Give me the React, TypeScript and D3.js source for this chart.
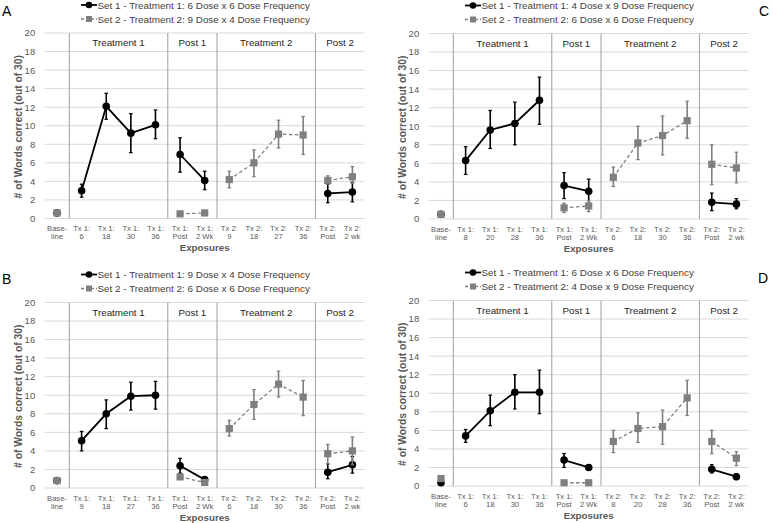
import React from "react";
import * as d3 from "d3";

// ---------- data ----------
const tickTop = ["Base-", "Tx 1:", "Tx 1:", "Tx 1:", "Tx 1:", "Tx 1:", "Tx 1:", "Tx 2:", "Tx 2:", "Tx 2:", "Tx 2:", "Tx 2:", "Tx 2:"];
const tickBottomA = ["line", "6", "18", "30", "36", "Post", "2 Wk", "9", "18", "27", "36", "Post", "2 wk"];
const tickBottomB = ["line", "9", "18", "27", "36", "Post", "2 Wk", "6", "18", "30", "36", "Post", "2 wk"];
const tickBottomC = ["line", "8", "20", "28", "36", "Post", "2 Wk", "6", "18", "30", "36", "Post", "2 wk"];
const tickBottomD = ["line", "6", "18", "30", "36", "Post", "2 Wk", "8", "20", "28", "36", "Post", "2 wk"];

const phaseNames = ["Treatment 1", "Post 1", "Treatment 2", "Post 2"];
const phaseStart = [1, 5, 7, 11];
const phaseEnd = [4, 6, 10, 12];
const groupOf = [0, 1, 1, 1, 1, 2, 2, 3, 3, 3, 3, 4, 4];

const yTicks = [0, 2, 4, 6, 8, 10, 12, 14, 16, 18, 20];

const legendA = ["Set 1 - Treatment 1: 6 Dose x 6 Dose Frequency", "Set 2 - Treatment 2: 9 Dose x 4 Dose Frequency"];
const legendB = ["Set 1 - Treatment 1: 9 Dose x 4 Dose Frequency", "Set 2 - Treatment 2: 6 Dose x 6 Dose Frequency"];
const legendC = ["Set 1 - Treatment 1: 4 Dose x 9 Dose Frequency", "Set 2 - Treatment 2: 6 Dose x 6 Dose Frequency"];
const legendD = ["Set 1 - Treatment 1: 6 Dose x 6 Dose Frequency", "Set 2 - Treatment 2: 4 Dose x 9 Dose Frequency"];

const N = null;
// Panel A
const a1 = [0.6, 3.0, 12.1, 9.2, 10.1, 6.9, 4.1, N, N, N, N, 2.7, 2.85];
const a1Hi = [0.9, 3.7, 13.5, 11.3, 11.7, 8.7, 5.1, N, N, N, N, 3.7, 3.9];
const a1Lo = [0.4, 2.3, 10.7, 7.1, 8.6, 5.0, 3.1, N, N, N, N, 1.7, 1.8];
const a2 = [0.6, N, N, N, N, 0.5, 0.6, 4.2, 6.0, 9.1, 9.0, 4.1, 4.5];
const a2Hi = [0.9, N, N, N, N, 0.6, 0.7, 5.1, 7.4, 10.6, 11.0, 4.6, 5.6];
const a2Lo = [0.4, N, N, N, N, 0.4, 0.5, 3.3, 4.5, 7.6, 6.9, 3.7, 3.8];
// Panel B
const b1 = [0.8, 5.1, 8.0, 9.9, 10.0, 2.4, 0.9, N, N, N, N, 1.7, 2.5];
const b1Hi = [1.1, 6.1, 9.5, 11.4, 11.5, 3.2, 1.0, N, N, N, N, 2.6, 3.4];
const b1Lo = [0.5, 4.0, 6.4, 8.4, 8.5, 1.6, 0.8, N, N, N, N, 1.0, 1.6];
const b2 = [0.8, N, N, N, N, 1.2, 0.6, 6.4, 9.0, 11.2, 9.8, 3.7, 4.0];
const b2Hi = [1.1, N, N, N, N, 1.4, 0.7, 7.3, 10.6, 12.6, 11.6, 4.7, 5.5];
const b2Lo = [0.5, N, N, N, N, 1.0, 0.5, 5.6, 7.4, 9.8, 7.8, 2.6, 2.5];
// Panel C
const c1 = [0.5, 6.3, 9.6, 10.3, 12.8, 3.6, 3.0, N, N, N, N, 1.8, 1.6];
const c1Hi = [0.7, 7.8, 11.7, 12.6, 15.3, 5.0, 4.3, N, N, N, N, 2.8, 2.2];
const c1Lo = [0.3, 4.8, 7.6, 8.0, 10.2, 2.2, 1.6, N, N, N, N, 0.9, 1.1];
const c2 = [0.5, N, N, N, N, 1.2, 1.4, 4.5, 8.2, 9.0, 10.6, 5.9, 5.5];
const c2Hi = [0.7, N, N, N, N, 1.7, 2.0, 5.6, 10.0, 11.1, 12.7, 8.0, 7.2];
const c2Lo = [0.3, N, N, N, N, 0.7, 0.8, 3.5, 6.4, 6.9, 8.7, 3.7, 3.9];
// Panel D
const d1 = [0.35, 5.4, 8.1, 10.1, 10.1, 2.8, 2.0, N, N, N, N, 1.8, 1.0];
const d1Hi = [0.5, 6.1, 9.8, 12.0, 12.5, 3.5, 2.1, N, N, N, N, 2.3, 1.3];
const d1Lo = [0.2, 4.7, 6.5, 8.3, 7.8, 2.0, 1.9, N, N, N, N, 1.4, 0.7];
const d2 = [0.8, N, N, N, N, 0.35, 0.35, 4.8, 6.2, 6.4, 9.5, 4.8, 3.0];
const d2Hi = [1.0, N, N, N, N, 0.45, 0.45, 6.0, 7.9, 8.2, 11.4, 6.0, 3.7];
const d2Lo = [0.6, N, N, N, N, 0.25, 0.25, 3.6, 4.7, 4.5, 7.6, 3.5, 2.2];

// ---------- styling ----------
const FONT = "'Liberation Sans', Arial, sans-serif";
const TXT = "#595959";
const BLACK = "#000000";
const GRAY = "#7f7f7f";

type Series = { v: (number | null)[]; hi: (number | null)[]; lo: (number | null)[] };

type PanelProps = {
  ox: number;
  oy: number;
  letter: string;
  letterX: number;
  letterY: number;
  legend: string[];
  bottoms: string[];
  s1: Series;
  s2: Series;
};

function Panel({ ox, oy, letter, letterX, letterY, legend, bottoms, s1, s2 }: PanelProps) {
  const left = 44.7;
  const right = 364.7;
  const top = 33;
  const bottom = 218.5;
  const idx = d3.range(tickTop.length);
  const x = d3.scaleBand<number>().domain(idx).range([left, right]);
  const cx = (i: number) => (x(i) as number) + x.bandwidth() / 2;
  const y = d3.scaleLinear().domain([0, 20]).range([bottom, top]);
  const line = d3
    .line<{ i: number; v: number }>()
    .x((d) => cx(d.i))
    .y((d) => y(d.v));

  const seriesEls = (s: Series, color: string, dashed: boolean, key: string) => {
    const groups = d3.range(5).map((g) =>
      idx.filter((i) => groupOf[i] === g && s.v[i] !== null).map((i) => ({ i, v: s.v[i] as number }))
    );
    return (
      <g key={key}>
        {groups.map((pts, g) =>
          pts.length > 1 ? (
            <path
              key={"l" + g}
              d={line(pts) || ""}
              fill="none"
              stroke={color}
              strokeWidth={dashed ? 1.3 : 1.8}
              strokeDasharray={dashed ? "3.5,2.5" : undefined}
            />
          ) : null
        )}
        {idx.map((i) =>
          s.v[i] === null ? null : (
            <g key={"e" + i}>
              <line x1={cx(i)} x2={cx(i)} y1={y(s.hi[i] as number)} y2={y(s.lo[i] as number)} stroke={color} strokeWidth={1.6} />
              <line x1={cx(i) - 1.8} x2={cx(i) + 1.8} y1={y(s.hi[i] as number)} y2={y(s.hi[i] as number)} stroke={color} strokeWidth={1.2} />
              <line x1={cx(i) - 1.8} x2={cx(i) + 1.8} y1={y(s.lo[i] as number)} y2={y(s.lo[i] as number)} stroke={color} strokeWidth={1.2} />
            </g>
          )
        )}
        {idx.map((i) =>
          s.v[i] === null ? null : dashed ? (
            <rect key={"m" + i} x={cx(i) - 3.6} y={y(s.v[i] as number) - 3.6} width={7.2} height={7.2} fill={color} />
          ) : (
            <circle key={"m" + i} cx={cx(i)} cy={y(s.v[i] as number)} r={3.8} fill={color} />
          )
        )}
      </g>
    );
  };

  return (
    <g transform={`translate(${ox},${oy})`}>
      {/* panel letter */}
      <text x={letterX} y={letterY} fontSize={14} fontFamily={FONT} fill="#000">
        {letter}
      </text>
      {/* legend */}
      {legend.map((t, k) => {
        const ly = 5 + k * 14;
        return (
          <g key={"lg" + k}>
            <line
              x1={81}
              x2={97}
              y1={ly}
              y2={ly}
              stroke={k === 0 ? BLACK : GRAY}
              strokeWidth={k === 0 ? 1.8 : 1.3}
              strokeDasharray={k === 0 ? undefined : "3,2"}
            />
            {k === 0 ? <circle cx={89} cy={ly} r={3.3} fill={BLACK} /> : <rect x={86} y={ly - 3} width={6} height={6} fill={GRAY} />}
            <text x={97.5} y={ly + 3.5} fontSize={9.9} fontFamily={FONT} fill="#404040">
              {t}
            </text>
          </g>
        );
      })}
      {/* gridlines */}
      {yTicks.map((t) => (
        <line key={"g" + t} x1={left} x2={right} y1={y(t)} y2={y(t)} stroke="#d9d9d9" strokeWidth={1} />
      ))}
      {/* y tick labels */}
      {yTicks.map((t) => (
        <text key={"yt" + t} x={left - 9.5} y={y(t) + 3.4} fontSize={9.5} fontFamily={FONT} fill={TXT} textAnchor="end">
          {t}
        </text>
      ))}
      {/* phase separators and labels */}
      {phaseNames.map((p, k) => {
        const x0 = x(phaseStart[k]) as number;
        const x1 = (x(phaseEnd[k]) as number) + x.bandwidth();
        return (
          <g key={"ph" + k}>
            <line x1={x0} x2={x0} y1={top} y2={bottom} stroke="#a6a6a6" strokeWidth={1.1} />
            <text x={(x0 + x1) / 2} y={top + 13} fontSize={9.8} fontFamily={FONT} fill="#262626" textAnchor="middle">
              {p}
            </text>
          </g>
        );
      })}
      {/* x tick labels */}
      {idx.map((i) => (
        <g key={"xt" + i}>
          <text x={cx(i)} y={bottom + 12.5} fontSize={7.6} fontFamily={FONT} fill={TXT} textAnchor="middle">
            {tickTop[i]}
          </text>
          <text x={cx(i)} y={bottom + 20.5} fontSize={7.6} fontFamily={FONT} fill={TXT} textAnchor="middle">
            {bottoms[i]}
          </text>
        </g>
      ))}
      {/* axis titles */}
      <text x={(left + right) / 2} y={bottom + 32.5} fontSize={9.8} fontWeight="bold" fontFamily={FONT} fill={TXT} textAnchor="middle">
        Exposures
      </text>
      <text
        transform={`translate(${21.8},${(top + bottom) / 2 + 1}) rotate(-90)`}
        fontSize={10.3}
        fontWeight="bold"
        fontFamily={FONT}
        fill={TXT}
        textAnchor="middle"
      >
        # of Words correct (out of 30)
      </text>
      {/* series */}
      {seriesEls(s1, BLACK, false, "s1")}
      {seriesEls(s2, GRAY, true, "s2")}
    </g>
  );
}

export default function App() {
  return (
    <svg width={773} height={523} style={{ position: "absolute", left: 0, top: 0, background: "#fff" }}>
      <rect width={773} height={523} fill="#fff" />
      <Panel ox={0} oy={0} letter="A" letterX={2} letterY={16} legend={legendA} bottoms={tickBottomA}
        s1={{ v: a1, hi: a1Hi, lo: a1Lo }} s2={{ v: a2, hi: a2Hi, lo: a2Lo }} />
      <Panel ox={0} oy={269.5} letter="B" letterX={2} letterY={14} legend={legendB} bottoms={tickBottomB}
        s1={{ v: b1, hi: b1Hi, lo: b1Lo }} s2={{ v: b2, hi: b2Hi, lo: b2Lo }} />
      <Panel ox={384} oy={0.5} letter="C" letterX={375} letterY={15} legend={legendC} bottoms={tickBottomC}
        s1={{ v: c1, hi: c1Hi, lo: c1Lo }} s2={{ v: c2, hi: c2Hi, lo: c2Lo }} />
      <Panel ox={384} oy={267.5} letter="D" letterX={374} letterY={15.5} legend={legendD} bottoms={tickBottomD}
        s1={{ v: d1, hi: d1Hi, lo: d1Lo }} s2={{ v: d2, hi: d2Hi, lo: d2Lo }} />
    </svg>
  );
}
